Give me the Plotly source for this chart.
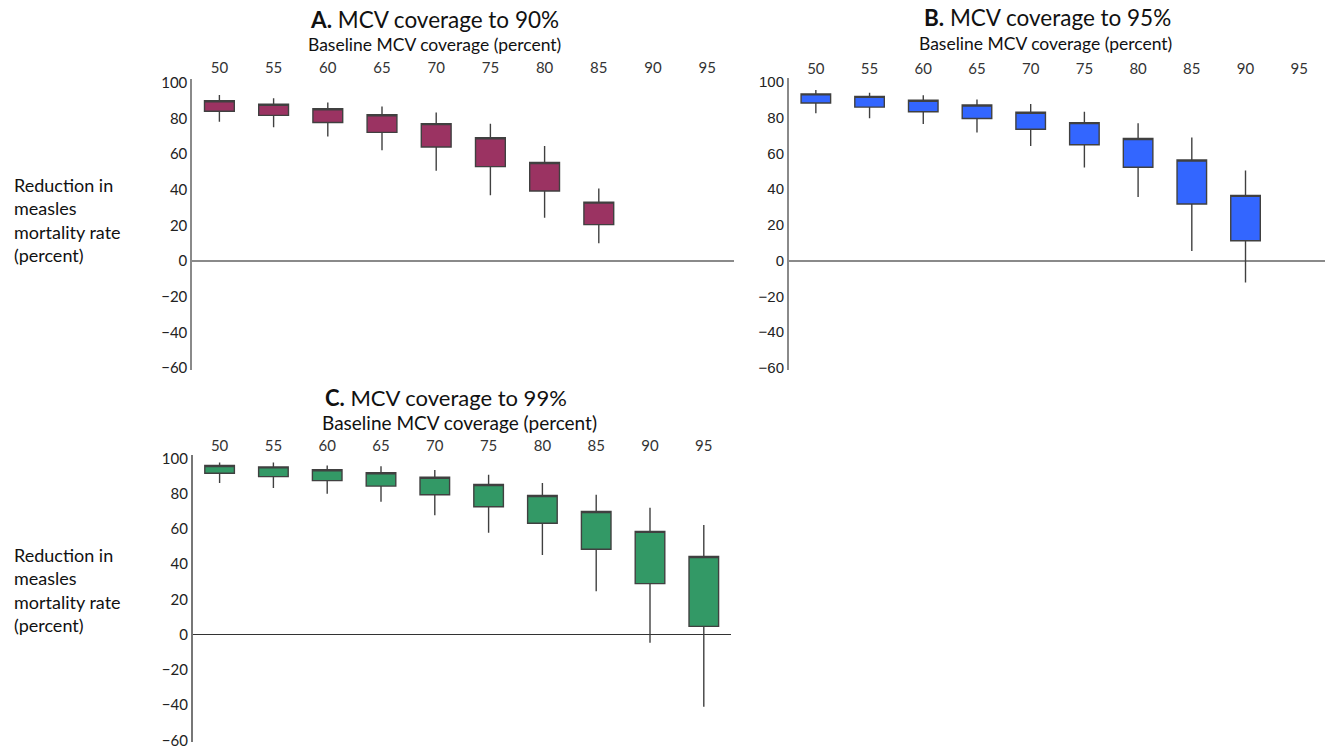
import plotly.graph_objects as go

W, H = 1325, 752

# ---------------- data ----------------
baseline = [50, 55, 60, 65, 70, 75, 80, 85, 90, 95]
tick_labels = ["50", "55", "60", "65", "70", "75", "80", "85", "90", "95"]
y_ticks = [-60, -40, -20, 0, 20, 40, 60, 80, 100]

# Panel A: MCV coverage to 90%  (baseline 50..85)
a_x = [50, 55, 60, 65, 70, 75, 80, 85]
a_hi = [93.2, 91.3, 88.9, 86.7, 83.4, 77.0, 64.6, 40.8]
a_q3 = [89.9, 88.0, 85.4, 82.1, 77.1, 69.2, 55.3, 33.1]
a_q1 = [84.0, 81.7, 77.7, 72.2, 64.0, 53.0, 39.3, 20.5]
a_lo = [78.1, 75.1, 69.9, 62.2, 50.7, 36.9, 24.4, 10.1]

# Panel B: MCV coverage to 95%  (baseline 50..90)
b_x = [50, 55, 60, 65, 70, 75, 80, 85, 90]
b_hi = [95.4, 93.9, 92.6, 90.2, 87.6, 83.3, 76.9, 68.9, 50.4]
b_q3 = [93.3, 91.9, 89.7, 87.1, 83.0, 77.2, 68.3, 56.3, 36.5]
b_q1 = [88.2, 85.9, 83.3, 79.5, 73.5, 64.8, 52.2, 31.7, 11.1]
b_lo = [82.4, 79.7, 76.5, 71.7, 64.1, 52.1, 35.6, 5.4, -12.2]

# Panel C: MCV coverage to 99%  (baseline 50..95)
c_x = [50, 55, 60, 65, 70, 75, 80, 85, 90, 95]
c_hi = [97.6, 97.6, 95.9, 95.4, 93.3, 90.7, 86.0, 79.3, 71.9, 62.2]
c_q3 = [95.9, 95.1, 93.5, 91.8, 89.2, 85.1, 78.9, 69.8, 58.5, 44.3]
c_q1 = [91.5, 89.6, 87.3, 84.2, 79.3, 72.5, 63.1, 48.4, 28.9, 4.6]
c_lo = [85.9, 83.1, 79.9, 75.3, 67.6, 57.7, 45.1, 24.6, -4.6, -40.9]

titles = ["<b>A.</b> MCV coverage to 90%", "<b>B.</b> MCV coverage to 95%", "<b>C.</b> MCV coverage to 99%"]
subtitle = "Baseline MCV coverage (percent)"
ylabel = "Reduction in<br>measles<br>mortality rate<br>(percent)"

colors = ["#9B3362", "#3366FF", "#339966"]

# ---------------- helpers (layout only) ----------------
def px_x(p):
    return p / W

def px_y(p):
    return 1 - p / H

LABEL_FONT = "Lato, 'Open Sans', sans-serif"

fig = go.Figure()

panels = [
    (a_x, a_hi, a_q3, a_q1, a_lo, "x", "y"),
    (b_x, b_hi, b_q3, b_q1, b_lo, "x2", "y2"),
    (c_x, c_hi, c_q3, c_q1, c_lo, "x3", "y3"),
]
for i, (xs, hi, q3, q1, lo, xa, ya) in enumerate(panels):
    fig.add_trace(go.Box(
        x=xs, q1=q1, q3=q3, median=q3, lowerfence=lo, upperfence=hi,
        width=2.75, whiskerwidth=0, boxpoints=False,
        fillcolor=colors[i],
        line=dict(color="#404040", width=1.4),
        xaxis=xa, yaxis=ya, showlegend=False, hoverinfo="skip",
    ))

# domains (reference pixel based)
dom = {
    "A": dict(x=(192.3, 734.3), y=(369.9, 74.4), yr=[-61, 102]),
    "B": dict(x=(789.0, 1325.0), y=(369.5, 73.5), yr=[-61, 102]),
    "C": dict(x=(192.7, 730.7), y=(748.0, 456.0), yr=[-61, 102]),
}

def xaxis_cfg(d, xr, standoff):
    return dict(
        domain=[px_x(d["x"][0]), min(1.0, px_x(d["x"][1]))], range=xr, side="top",
        tickvals=baseline, ticktext=tick_labels, ticks="", showline=False,
        showgrid=False, zeroline=False, ticklabelstandoff=standoff,
        tickfont=dict(family=LABEL_FONT, size=15, color="#333333"),
    )

def yaxis_cfg(d, linecolor, lw, zc, zw, tfont):
    return dict(
        domain=[px_y(d["y"][0]), px_y(d["y"][1])], range=d["yr"],
        tickvals=y_ticks, ticks="", showline=True, linecolor=linecolor, linewidth=lw,
        showgrid=False, zeroline=True, zerolinecolor=zc, zerolinewidth=zw,
        tickfont=tfont,
    )

fig.update_layout(
    width=W, height=H,
    margin=dict(l=0, r=0, t=0, b=0),
    paper_bgcolor="white", plot_bgcolor="white",
    xaxis=dict(xaxis_cfg(dom["A"], [47.5, 97.5], 2), anchor="y"),
    yaxis=dict(yaxis_cfg(dom["A"], "#8a8a8a", 2, "#8a8a8a", 2,
                         dict(family=LABEL_FONT, size=15, color="#222222")), anchor="x"),
    xaxis2=dict(xaxis_cfg(dom["B"], [47.5, 97.4], 0), anchor="y2"),
    yaxis2=dict(yaxis_cfg(dom["B"], "#8a8a8a", 2, "#8a8a8a", 2,
                          dict(family="'Liberation Sans', Arial, sans-serif", size=15, color="#222222")), anchor="x2"),
    xaxis3=dict(xaxis_cfg(dom["C"], [47.5, 97.5], 0), anchor="y3"),
    yaxis3=dict(yaxis_cfg(dom["C"], "#777777", 1.5, "#333333", 1.2,
                          dict(family=LABEL_FONT, size=15, color="#222222")), anchor="x3"),
)

ann = []
title_pos = [(434, 14), (1047, 12), (446, 398)]
sub_pos = [(434, 39), (1045, 38), (460, 423.5)]
title_size = [22.5, 22.5, 22]
sub_size = [17.5, 17.5, 19]
for i in range(3):
    ann.append(dict(text=titles[i], x=px_x(title_pos[i][0]), y=px_y(title_pos[i][1]),
                    xref="paper", yref="paper", xanchor="center", yanchor="middle",
                    showarrow=False, font=dict(family=LABEL_FONT, size=title_size[i], color="#111111")))
    ann.append(dict(text=subtitle, x=px_x(sub_pos[i][0]), y=px_y(sub_pos[i][1]),
                    xref="paper", yref="paper", xanchor="center", yanchor="middle",
                    showarrow=False, font=dict(family=LABEL_FONT, size=sub_size[i], color="#111111")))
for yc in (217, 593):
    ann.append(dict(text=ylabel, x=px_x(12), y=px_y(yc), xref="paper", yref="paper",
                    xanchor="left", yanchor="middle", align="left", showarrow=False,
                    font=dict(family=LABEL_FONT, size=18, color="#111111")))
fig.update_layout(annotations=ann)

# remove the default 8px page margin so the figure sits at the window origin
fig.write_html("out.html", config={"displayModeBar": False},
               post_script="document.body.style.margin='0px';")
